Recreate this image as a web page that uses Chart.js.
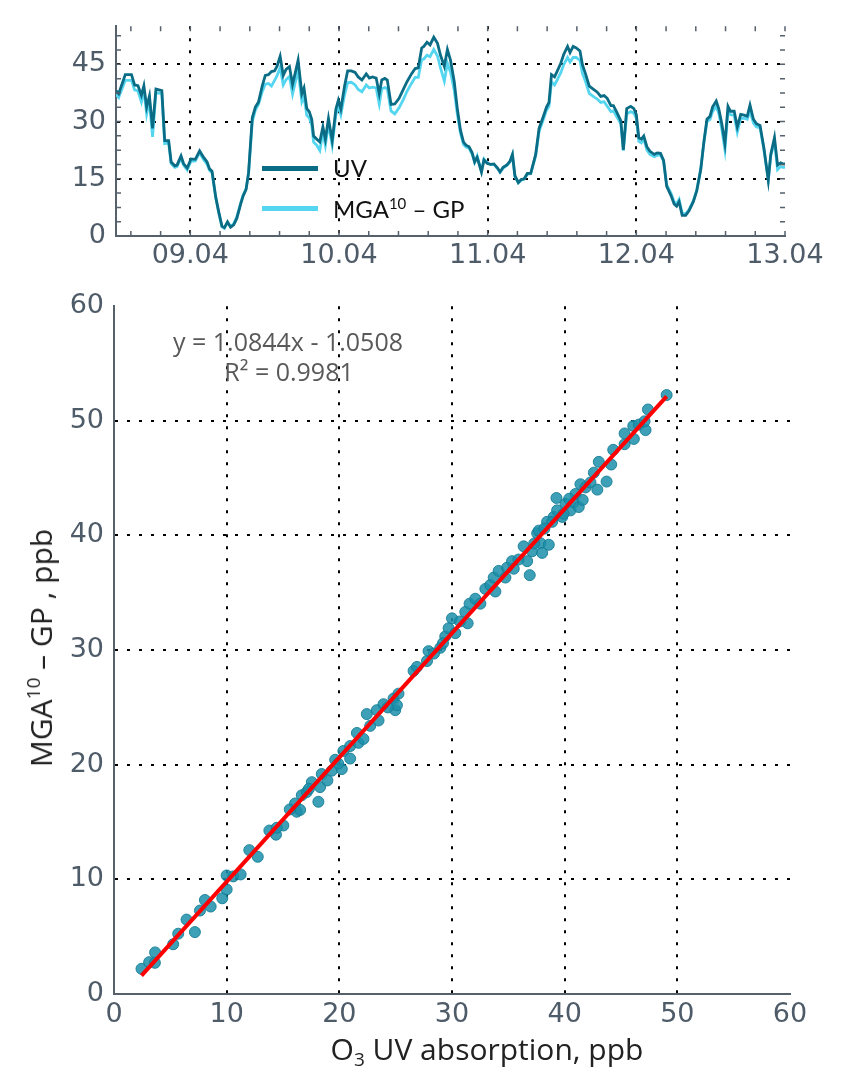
<!DOCTYPE html>
<html>
<head>
<meta charset="utf-8">
<script src="https://cdn.jsdelivr.net/npm/chart.js@4.4.0/dist/chart.umd.min.js"></script>
<style>
  body { margin: 0; width: 848px; height: 1067px; position: relative; background: #fff; overflow: hidden; }
  canvas { position: absolute; left: 0; }
  #top { top: 0; }
  #bottom { top: 280px; }
  .txt { position: absolute; white-space: nowrap; font-family: Lato, "Open Sans", sans-serif; line-height: 1; }
  .os { font-family: "Open Sans", Lato, sans-serif; }
  .swatch { position: absolute; height: 5px; }
</style>
</head>
<body>
<canvas id="top" width="848" height="280"></canvas>
<canvas id="bottom" width="848" height="787"></canvas>

<div class="swatch" style="left:262px;top:166px;width:56px;background:#0b6c85"></div>
<div class="swatch" style="left:262px;top:206px;width:56px;background:#55d6f0"></div>
<div class="txt" style="left:333px;top:156px;font-size:24px;color:#111">UV</div>
<div class="txt" style="left:333px;top:196px;font-size:24px;color:#111">MGA<sup style="font-size:15px;vertical-align:9px">10</sup> – GP</div>

<div class="txt os" style="left:288px;top:329px;font-size:25px;color:#595959;transform:translateX(-50%)">y = 1.0844x - 1.0508</div>
<div class="txt os" style="left:289px;top:359px;font-size:25px;color:#595959;transform:translateX(-50%)">R² = 0.9981</div>

<div class="txt os" style="left:487px;top:1034px;font-size:30px;color:#222;transform:translateX(-50%)">O<sub style="font-size:19px;vertical-align:-6px">3</sub> UV absorption, ppb</div>
<div class="txt os" style="left:40px;top:648px;font-size:30px;color:#222;transform:translate(-50%,-50%) rotate(-90deg)">MGA<sup style="font-size:19px;vertical-align:12px">10</sup> – GP , ppb</div>

<script>
// time series, hours since 08.04 12:00
const hours = [0,0.43,1.5,2.5,3.0,3.55,4.1,4.5,4.95,5.4,5.9,6.45,7.4,7.86,8.5,8.9,9.5,9.85,10.5,10.9,11.5,12.1,12.8,13.5,14.15,14.7,15.1,15.5,16.1,16.6,17.1,17.5,18.0,18.5,19.0,19.5,20.1,20.5,21.0,21.4,22.0,22.5,23.0,23.6,24.1,24.6,25.1,25.6,26.0,26.5,
  27.0,27.45,28.0,28.5,28.9,29.4,30.0,30.35,30.8,31.2,31.6,31.9,32.4,32.9,33.4,33.8,34.3,34.9,35.5,35.9,36.3,36.9,37.4,38.0,38.6,39.1,39.7,40.4,40.9,41.4,42.0,42.5,42.9,43.4,43.8,44.4,45.0,45.7,46.4,47.0,47.7,48.3,48.8,49.35,49.7,50.2,50.7,51.3,51.9,52.4,53.0,53.5,54.0,
  54.6,55.1,55.6,56.1,56.5,57.0,57.5,57.9,58.3,58.6,59.0,59.4,59.95,60.5,61.0,61.6,62.0,62.5,63.1,63.6,64.0,64.4,64.95,65.4,65.9,66.4,66.95,67.75,68.3,69.0,69.5,69.9,70.3,70.8,71.25,71.8,72.3,72.9,73.3,73.8,74.3,74.9,75.3,75.8,76.4,77.2,77.7,78.25,78.8,79.3,79.9,80.3,80.8,81.5,81.9,82.45,83.1,83.6,84.0,84.4,84.8,85.2,85.7,86.2,86.9,87.4,87.9,88.4,88.9,89.6,90.1,90.5,90.9,91.4,91.97,92.5,93.2,93.75,94.4,94.9,95.4,95.9,96.3,96.9,97.3,97.8,98.3,98.8,99.2,99.8,100.3,100.85,101.4,101.9,102.35,102.9,103.4,103.97,104.6,105.3,105.7,106.3,106.8,107.3,107.7,108];

const uv = [38.1,37.3,42.3,42.3,39.6,39.4,36.9,39.4,33.8,36.7,28.2,38.5,38.1,25.0,25.0,19.4,18.4,18.6,21.0,19.0,17.8,20.2,20.1,22.3,20.6,19.4,17.6,17.0,10.2,6.2,2.6,2.2,3.7,2.3,2.9,4.6,8.2,10.4,12.2,16.6,31.0,33.8,35.1,39.3,42.1,42.3,43.1,43.3,44.5,47.1,
  42.1,43.7,44.4,39.7,42.5,46.1,37.3,38.8,33.4,32.6,30.6,26.2,25.4,24.7,28.6,25.4,30.8,25.0,33.3,35.6,33.3,39.3,43.3,43.3,42.9,41.7,40.9,42.5,41.4,41.7,41.4,37.3,40.9,41.3,40.9,34.5,34.6,36.1,38.5,40.5,42.5,43.9,44.1,49.3,49.7,50.8,50.1,52.1,50.5,47.3,44.5,48.9,46.1,
  40.5,33.4,27.8,24.6,23.8,23.4,21.8,19.4,20.6,19.0,16.8,19.9,19.0,18.8,18.9,17.8,16.8,18.0,18.6,19.6,21.4,15.8,14.0,14.8,15.0,16.4,16.4,21.4,28.2,31.4,33.8,35.0,42.3,41.7,43.3,45.3,47.7,49.7,48.1,49.7,49.3,48.5,44.9,42.5,39.3,38.3,37.7,36.6,36.8,36.1,34.2,34.2,32.6,30.2,22.6,33.4,34.0,33.4,31.8,25.8,25.4,26.2,23.4,22.2,21.4,21.8,21.7,19.8,13.0,10.6,8.4,7.8,9.0,5.4,5.4,6.6,9.0,11.8,17.4,24.6,30.6,31.4,33.8,35.4,33.4,29.4,24.2,34.0,32.7,32.7,28.6,31.9,31.7,31.4,34.3,30.6,29.4,29.0,23.0,14.6,21.4,25.8,18.6,19.2,18.9,18.9];

const mga = [37.1,36.3,40.8,40.8,38.3,38.0,35.2,38.2,32.0,35.5,26.0,37.6,37.3,24.2,24.4,19.0,18.0,18.2,20.4,18.6,17.3,19.6,19.7,21.8,20.0,18.8,17.2,16.6,10.0,6.0,2.4,2.0,3.5,2.5,3.2,5.0,8.5,10.6,12.4,16.2,30.0,33.0,34.5,37.8,39.8,40.0,39.3,40.8,42.0,44.2,
  39.6,41.0,41.8,37.2,40.0,43.4,35.2,36.6,31.6,31.0,29.0,24.6,23.8,22.4,27.2,23.8,29.4,23.8,31.8,34.2,31.8,37.0,40.2,40.3,39.6,38.4,37.8,39.6,38.8,39.0,38.8,34.6,38.6,38.9,38.6,32.8,32.0,33.6,35.8,38.0,40.0,41.6,41.6,46.2,46.4,47.4,47.0,48.9,47.2,44.0,40.6,45.3,43.0,
  38.2,32.0,27.0,24.0,23.3,23.0,21.4,19.3,21.0,19.2,16.9,20.2,19.2,18.7,18.8,17.7,16.7,17.8,18.5,19.4,21.2,15.6,13.9,14.6,14.9,16.2,16.3,21.0,27.4,30.6,33.0,34.0,40.4,39.6,41.0,42.8,45.0,46.8,45.6,46.8,46.8,46.0,42.6,40.5,37.4,36.4,35.9,35.0,35.2,34.0,32.6,32.8,31.4,29.4,22.4,32.0,32.6,32.2,30.8,24.8,24.4,25.4,22.6,21.4,20.8,21.2,21.2,19.6,13.4,11.2,9.0,8.4,9.6,6.0,5.8,6.9,9.2,12.0,17.6,24.4,30.0,30.6,32.6,34.0,32.2,28.0,22.6,32.8,31.8,31.6,27.2,30.8,30.9,30.6,32.8,29.6,28.6,28.4,22.6,14.8,21.0,24.8,17.4,18.2,18.0,18.0];

const dayHours = [12, 36, 60, 84, 108];
const dayLabels = ['09.04', '10.04', '11.04', '12.04', '13.04'];
const topYTicks = [0, 15, 30, 45];

// scatter: O3 UV absorption vs MGA10-GP, ppb
const uvAbs = [2.44,3.12,3.63,3.65,5.25,5.70,6.44,7.18,7.63,8.07,8.58,9.61,10.0,10.0,10.59,11.24,12.01,12.76,13.79,14.38,15.03,14.44,
  16.22,16.07,16.52,16.67,17.11,17.56,18.14,18.29,18.44,18.94,19.33,19.63,20.22,20.36,20.96,20.96,21.56,21.70,22.14,22.44,22.74,23.48,23.33,23.92,24.81,24.96,25.11,25.25,26.59,26.89,
  27.78,27.92,28.96,29.40,29.70,30.0,30.29,31.18,31.39,31.56,32.07,32.52,32.96,33.40,33.85,33.70,34.14,34.74,34.89,35.33,35.48,36.36,36.67,36.90,37.11,37.56,37.85,38.0,38.59,38.44,39.03,39.33,39.27,
  37.70,38.89,39.78,40.07,40.52,40.81,40.96,41.25,41.40,41.85,42.29,42.59,43.03,43.72,44.13,44.31,45.32,45.32,46.14,46.09,46.59,47.18,47.09,47.39,49.05,
  15.6,17.3,19.9,24.3,28.4,29.2,30.7,35.9,39.9,40.4,41.6,42.9,37.3,38.2];
const mgaGp = [2.20,2.78,2.72,3.63,4.34,5.26,6.49,5.40,7.28,8.20,7.63,8.35,9.12,10.34,10.26,10.43,12.55,11.97,14.26,13.90,14.70,14.50,
  15.90,16.62,16.06,17.34,17.62,18.48,16.77,18.05,19.19,18.63,19.48,20.43,19.62,21.20,20.54,21.63,22.77,21.91,22.25,24.42,23.39,23.86,24.76,25.28,25.77,24.76,25.19,26.20,28.19,28.53,
  29.05,29.91,30.20,31.19,31.91,32.77,31.48,33.33,32.34,34.05,34.48,34.05,35.34,35.68,35.11,36.33,36.91,36.33,37.19,37.76,37.10,39.05,37.76,36.54,38.62,40.19,39.33,38.48,39.19,41.19,41.62,42.19,43.27,
  40.42,41.19,41.62,42.76,42.19,42.90,43.62,42.48,44.47,44.19,44.62,45.48,46.42,44.70,46.19,47.47,47.96,48.90,48.42,49.56,49.67,49.19,49.96,50.99,52.25,
  16.1,17.9,20.1,25.0,29.7,30.6,32.5,37.9,41.9,43.2,43.1,44.0,39.3,40.6];

const fitSlope = 1.0844;
const fitIntercept = -1.0508;
const fitRange = [2.44, 49.05];

const tickFont = { family: 'DejaVu Sans', size: 27 };
const tickColor = '#4e5b68';
const frameColor = '#56616c';

// small inward ticks on all four sides of the top panel
const innerTicks = {
    id: 'innerTicks',
    afterDraw(chart) {
        const { ctx, chartArea: a, scales: { x, y } } = chart;
        ctx.save();
        ctx.strokeStyle = frameColor;
        ctx.lineWidth = 1.5;
        ctx.beginPath();
        for (let v = 2.4; v < 108; v += 4.8) {
            const px = x.getPixelForValue(v);
            ctx.moveTo(px, a.top); ctx.lineTo(px, a.top + 5);
            ctx.moveTo(px, a.bottom); ctx.lineTo(px, a.bottom - 5);
        }
        for (let v = 3.75; v < 55; v += 3.75) {
            const py = y.getPixelForValue(v);
            ctx.moveTo(a.left, py); ctx.lineTo(a.left + 5, py);
            ctx.moveTo(a.right, py); ctx.lineTo(a.right - 5, py);
        }
        ctx.stroke();
        ctx.restore();
    }
};

const edgeless = (min, max) => c => (c.tick && (c.tick.value === min || c.tick.value === max)) ? 'rgba(0,0,0,0)' : '#000';

//Time series
new Chart(document.getElementById('top'), {
    type: 'line',
    data: {
        datasets: [{
            label: 'UV',
            data: hours.map((h, i) => ({ x: h, y: uv[i] })),
            borderColor: '#0b6c85',
            borderWidth: 2.8,
            pointRadius: 0,
            tension: 0
        }, {
            label: 'MGA10 – GP',
            data: hours.map((h, i) => ({ x: h, y: mga[i] })),
            borderColor: '#55d6f0',
            borderWidth: 2.8,
            pointRadius: 0,
            tension: 0
        }]
    },
    options: {
        responsive: false,
        animation: false,
        layout: { padding: { left: 0, right: 63, top: 7, bottom: 0 } },
        plugins: { legend: { display: false }, tooltip: { enabled: false } },
        scales: {
            x: {
                type: 'linear', min: 0, max: 108,
                afterBuildTicks: s => { s.ticks = dayHours.map(v => ({ value: v })); },
                afterFit: s => { s.height = 44; },
                ticks: {
                    callback: v => dayLabels[dayHours.indexOf(v)],
                    font: tickFont, color: tickColor, padding: 4,
                    maxRotation: 0, autoSkip: false
                },
                grid: { color: edgeless(0, 108), lineWidth: 2, drawTicks: false },
                border: { color: frameColor, width: 2, dash: [3, 9] }
            },
            y: {
                min: 0, max: 55,
                afterBuildTicks: s => { s.ticks = topYTicks.map(v => ({ value: v })); },
                afterFit: s => { s.width = 116; },
                ticks: { font: tickFont, color: tickColor, padding: 10 },
                grid: { color: edgeless(0, 55), lineWidth: 2, drawTicks: false },
                border: { color: frameColor, width: 2, dash: [3, 9] }
            }
        }
    },
    plugins: [innerTicks]
});

//Scatter
new Chart(document.getElementById('bottom'), {
    type: 'scatter',
    data: {
        datasets: [{
            type: 'line',
            label: 'fit',
            data: fitRange.map(v => ({ x: v, y: fitSlope * v + fitIntercept })),
            borderColor: '#ff0000',
            borderWidth: 4,
            pointRadius: 0
        }, {
            label: 'points',
            data: uvAbs.map((v, i) => ({ x: v, y: mgaGp[i] })),
            backgroundColor: 'rgba(27,143,170,0.85)',
            borderColor: 'rgba(20,125,150,0.9)',
            borderWidth: 1,
            pointRadius: 5.5
        }]
    },
    options: {
        responsive: false,
        animation: false,
        layout: { padding: { left: 0, right: 58, top: 17, bottom: 0 } },
        plugins: { legend: { display: false }, tooltip: { enabled: false } },
        scales: {
            x: {
                type: 'linear', min: 0, max: 60,
                afterFit: s => { s.height = 73; },
                ticks: { stepSize: 10, font: tickFont, color: tickColor, padding: 5, maxRotation: 0 },
                grid: { color: edgeless(0, 60), lineWidth: 2, drawTicks: false },
                border: { color: frameColor, width: 2, dash: [3, 9] }
            },
            y: {
                min: 0, max: 60,
                afterFit: s => { s.width = 114; },
                ticks: { stepSize: 10, font: tickFont, color: tickColor, padding: 10 },
                grid: { color: edgeless(0, 60), lineWidth: 2, drawTicks: false },
                border: { color: frameColor, width: 2, dash: [3, 9] }
            }
        }
    }
});
</script>
</body>
</html>
